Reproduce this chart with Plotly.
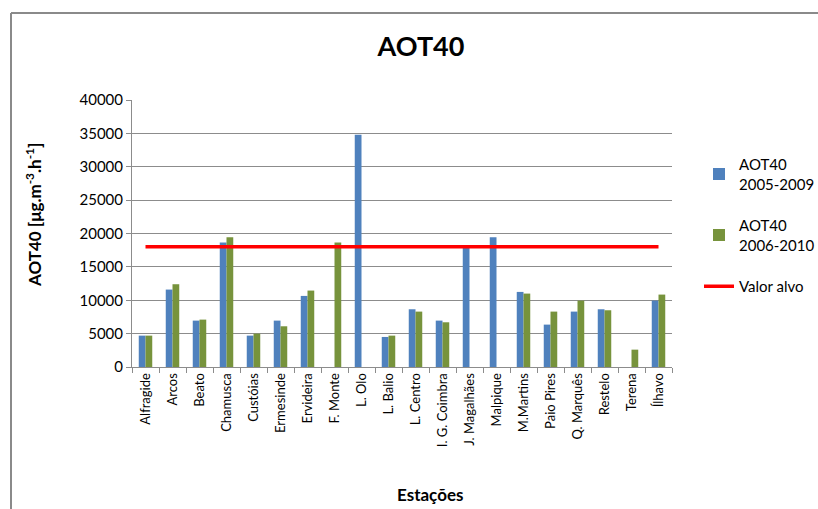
import plotly.graph_objects as go

estacoes = ["Alfragide", "Arcos", "Beato", "Chamusca", "Custóias", "Ermesinde",
            "Ervideira", "F. Monte", "L. Olo", "L. Balio", "L. Centro",
            "I. G. Coimbra", "J. Magalhães", "Malpique", "M.Martins",
            "Paio Pires", "Q. Marquês", "Restelo", "Terena", "Ílhavo"]
aot40_2005_2009 = [4700, 11600, 6950, 18650, 4700, 6950, 10650, None, 34800, 4500,
                   8650, 6950, 17900, 19450, 11250, 6350, 8300, 8650, None, 9950]
aot40_2006_2010 = [4700, 12400, 7100, 19450, 5000, 6100, 11450, 18650, None, 4700,
                   8300, 6700, None, None, 11000, 8300, 9950, 8500, 2600, 10850]
valor_alvo = 18000
y_ticks = [0, 5000, 10000, 15000, 20000, 25000, 30000, 35000, 40000]

FONT = "Lato"
BLUE = "#4F81BD"
GREEN = "#77933C"
GRID = "#8C8C8C"

fig = go.Figure()
fig.add_trace(go.Bar(x=estacoes, y=aot40_2005_2009, name="AOT40<br>2005-2009",
                     marker=dict(color=BLUE, line=dict(width=0)), legendgroup="a"))
fig.add_trace(go.Bar(x=estacoes, y=aot40_2006_2010, name="AOT40<br>2006-2010",
                     marker=dict(color=GREEN, line=dict(width=0)), legendgroup="b"))
fig.add_trace(go.Scatter(x=estacoes, y=[valor_alvo] * len(estacoes), mode="lines",
                         name="Valor alvo", line=dict(color="#FF0000", width=3.5),
                         legendgroup="c"))

W, H = 818, 509
L, R, T, B = 132, 146, 100, 142
pw, ph = W - L - R, H - T - B

# outer chart frame (left and top edges visible)
fx = (11 - L) / pw
fy = (H - B - 13) / ph
fig.add_shape(type="line", xref="paper", yref="paper", x0=fx, x1=2, y0=fy, y1=fy,
              line=dict(color="#8A8A8A", width=2))
fig.add_shape(type="line", xref="paper", yref="paper", x0=fx, x1=fx, y0=fy, y1=-1,
              line=dict(color="#8A8A8A", width=2))

# axis titles
fig.add_annotation(text="<b>Estações</b>", xref="paper", yref="paper",
                   x=(430 - L) / pw, y=(H - B - 494) / ph, showarrow=False,
                   xanchor="center", yanchor="middle", font=dict(size=17))
fig.add_annotation(text="<b>AOT40 [μg.m<sup>-3</sup>.h<sup>-1</sup>]</b>",
                   xref="paper", yref="paper", textangle=-90,
                   x=(33 - L) / pw, y=(H - B - 215) / ph, showarrow=False,
                   xanchor="center", yanchor="middle", font=dict(size=17))

fig.update_layout(
    width=W, height=H,
    margin=dict(l=L, r=R, t=T, b=B, autoexpand=False),
    paper_bgcolor="white", plot_bgcolor="white",
    font=dict(family=FONT, color="#000000", size=12),
    barmode="group", bargap=0.5, bargroupgap=0,
    title=dict(text="<b>AOT40</b>", x=421 / W, xanchor="center",
               y=1 - 47 / H, yanchor="middle", font=dict(size=27, family=FONT)),
    legend=dict(xref="container", yref="container", x=699 / W, xanchor="left",
                y=1 - 148 / H, yanchor="top",
                font=dict(size=15, family=FONT), tracegroupgap=19,
                itemwidth=30, bgcolor="rgba(0,0,0,0)"),
    showlegend=True,
)
fig.update_xaxes(
    type="category", tickangle=-90, tickfont=dict(size=13), automargin=False,
    showline=True, linecolor=GRID, linewidth=1,
    ticks="outside", tickson="boundaries", ticklen=5, tickcolor=GRID,
    showgrid=False,
)
fig.update_yaxes(
    range=[0, 40000], tickvals=y_ticks, ticktext=[str(v) for v in y_ticks],
    tickfont=dict(size=15), showline=True, linecolor=GRID, linewidth=1,
    automargin=False,
    ticks="outside", ticklen=5, tickcolor=GRID,
    showgrid=True, gridcolor=GRID, gridwidth=1, zeroline=False,
)

fig.write_html("out.html")
